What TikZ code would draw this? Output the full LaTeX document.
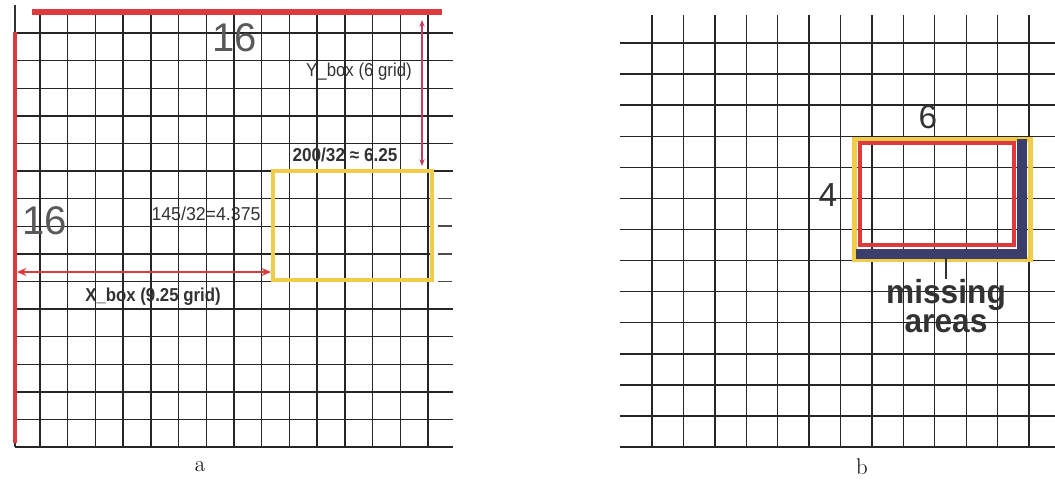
\documentclass[tikz,border=0pt]{standalone}
\usepackage{fontspec}
\newfontfamily\labelfont{Liberation Sans}
\usetikzlibrary{arrows.meta}
\definecolor{markred}{RGB}{222,58,62}
\definecolor{boxyellow}{RGB}{240,204,72}
\definecolor{arrowpink}{RGB}{196,60,98}
\definecolor{missnavy}{RGB}{58,62,104}
\definecolor{labelgray}{RGB}{50,50,50}
\tikzset{
	gridline/.style={line width=1.05pt, color=black!85},
	sizelabel/.style={font=\labelfont\fontsize{30}{30}\selectfont, text=black!65, inner sep=0pt},
	calclabel/.style={font=\labelfont\fontsize{14}{14}\selectfont, text=labelgray, inner sep=0pt},
	caption/.style={font=\fontsize{17}{17}\selectfont, inner sep=0pt}
}

\begin{document}
\begin{tikzpicture}[x=0.75pt, y=-0.75pt]
		\useasboundingbox (0,0) rectangle (1055,482);
		%%%%% PANEL A %%%%%
		
		% grid
		\foreach \i in {0,...,14}
			\draw[gridline] ({40+27.71*\i},12) -- ({40+27.71*\i},447);
		\foreach \j in {0,1,2,3,4,5,10,11,12,13,14,15}
			\draw[gridline] (15,{33+27.6*\j}) -- (453,{33+27.6*\j});
		\foreach \j in {6,7,8,9}{
			\draw[gridline] (15,{33+27.6*\j}) -- (432,{33+27.6*\j});
			\draw[line width=1.2pt, color=black!70] (438,{33+27.6*\j}) -- (452,{33+27.6*\j});
		}
		
		% red borders
		\draw[line width=0.8pt, color=black!80] (15,5) -- (15,447);
		\draw[line width=3.4pt, color=markred] (15,32) -- (15,443);
		\draw[line width=3.8pt, color=markred] (32,12) -- (442,12);
		
		% box
		\coordinate (boxSW) at (273,280);
		\coordinate (boxNE) at (432,171);
		\draw[line width=3pt, color=boxyellow] (boxSW) rectangle (boxNE);
		
		% arrows
		\coordinate (xstart) at (17,272);
		\coordinate (xend) at (271,272);
		\draw[line width=2.2pt, color=markred, {Stealth[length=7pt,width=6pt]}-{Stealth[length=7pt,width=6pt]}] (xstart) -- (xend);
		\coordinate (ystart) at (422,20);
		\coordinate (yend) at (422,166);
		\draw[line width=1pt, color=arrowpink, {Stealth[length=5pt,width=4pt]}-{Stealth[length=5pt,width=4pt]}] (ystart) -- (yend);
		
		% labels
		\node[sizelabel] (topsixteen) at (235,38) {16};
		\node[sizelabel] (leftsixteen) at (45,221) {16};
		\node[calclabel, xscale=0.9] (ylabel) at (359,72) {Y\_box (6 grid)};
		\node[calclabel, font=\labelfont\bfseries\fontsize{14}{14}\selectfont, xscale=0.92] (widthcalc) at (345,155) {200/32 ≈ 6.25};
		\node[calclabel, xscale=0.95] (heightcalc) at (206,214) {145/32=4.375};
		\node[calclabel, font=\labelfont\bfseries\fontsize{14}{14}\selectfont, xscale=0.9] (xlabel) at (153,297) {X\_box (9.25 grid)};
		\node[caption] (capa) at (200,467) {a};
		
		%%%%% PANEL B %%%%%
		
		% grid
		\foreach \i in {0,...,12}
			\draw[gridline] ({652+31.42*\i},15) -- ({652+31.42*\i},447);
		\foreach \j in {0,...,13}
			\draw[gridline] (620,{43+31.08*\j}) -- (1055,{43+31.08*\j});
		
		% box with missing areas
		\draw[line width=3.8pt, color=boxyellow] (854.5,139.5) rectangle (1030.5,259.5);
		\draw[line width=8pt, color=missnavy] (1022,139) -- (1022,254) -- (856,254);
		\draw[line width=3pt, color=markred] (860,143) rectangle (1014,245);
		
		% labels
		\node[sizelabel, font=\labelfont\fontsize{25}{25}\selectfont, text=black!80] (widthsix) at (928,117) {6};
		\node[sizelabel, font=\labelfont\fontsize{25}{25}\selectfont, text=black!80] (heightfour) at (828,195) {4};
		\coordinate (tickstart) at (946,258);
		\node[inner sep=0pt, align=center, text=labelgray, font=\labelfont\bfseries\fontsize{25}{22}\selectfont, xscale=0.95] (missing) at (946,306) {missing\\areas};
		\draw[line width=1.5pt, color=black!80] (tickstart) -- (tickstart |- missing.north);
		\node[caption] (capb) at (862,467) {b};
		
		%%%%% END %%%%%
	\end{tikzpicture}
\end{document}
